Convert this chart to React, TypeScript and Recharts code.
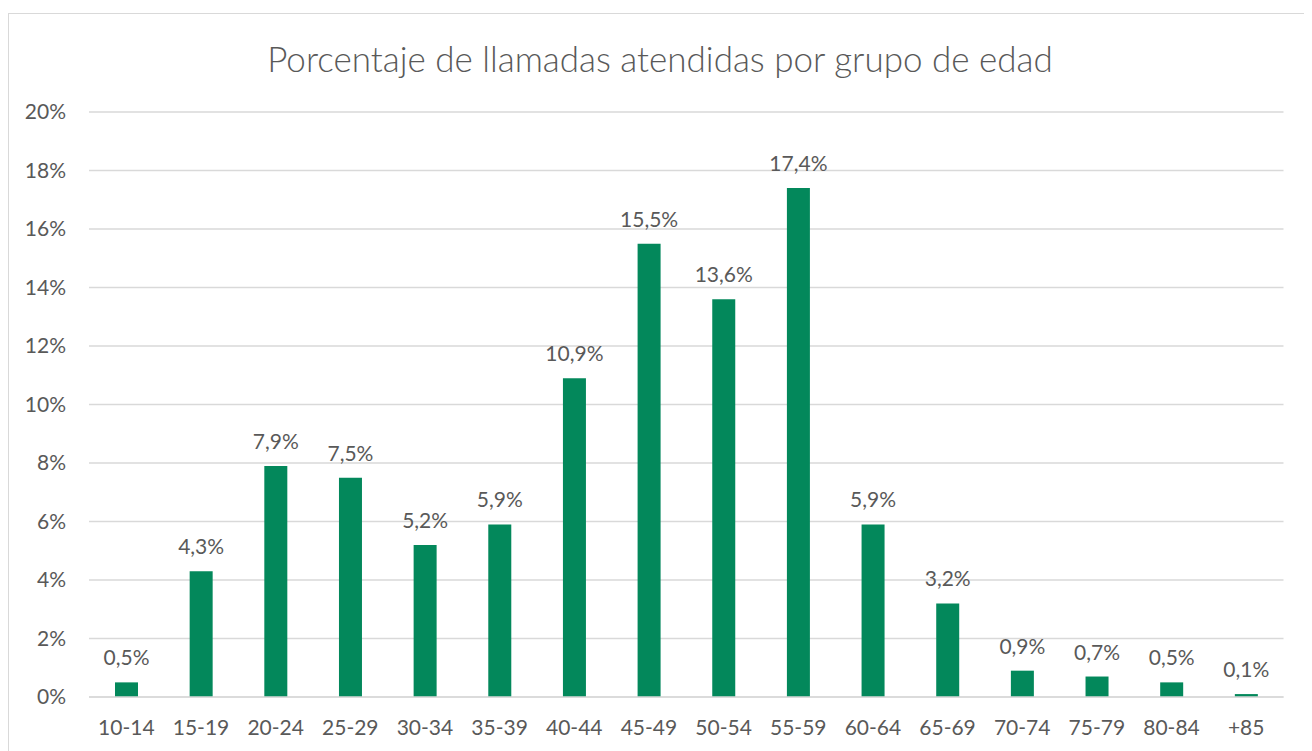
import React from 'react';
import { BarChart, Bar, XAxis, YAxis, CartesianGrid, LabelList } from 'recharts';

const ageGroups = ['10-14', '15-19', '20-24', '25-29', '30-34', '35-39', '40-44', '45-49', '50-54', '55-59', '60-64', '65-69', '70-74', '75-79', '80-84', '+85'];
const callShares = [0.5, 4.3, 7.9, 7.5, 5.2, 5.9, 10.9, 15.5, 13.6, 17.4, 5.9, 3.2, 0.9, 0.7, 0.5, 0.1];
const yTicks = [0, 2, 4, 6, 8, 10, 12, 14, 16, 18, 20];

const textGray = '#595959';
const gridGray = '#d9d9d9';
const barGreen = '#03885b';

const data = ageGroups.map((group, i) => ({ group, value: callShares[i] }));

const fmtLabel = (v: any) => `${Number(v).toFixed(1).replace('.', ',')}%`;

export default function App() {
  return (
    <div
      style={{
        position: 'relative',
        marginTop: 5,
        width: 1302,
        height: 745,
        border: `1px solid ${gridGray}`,
        background: '#fff',
        fontFamily: 'Lato, sans-serif',
      }}
    >
      {/* chart title */}
      <div
        style={{
          position: 'absolute',
          top: 24,
          left: 0,
          width: '100%',
          textAlign: 'center',
          fontSize: 35,
          fontWeight: 300,
          color: textGray,
          lineHeight: '40px',
        }}
      >
        Porcentaje de llamadas atendidas por grupo de edad
      </div>

      <BarChart
        width={1302}
        height={735}
        data={data}
        margin={{ top: 98, right: 27.5, bottom: 12, left: 0 }}
      >
        <CartesianGrid vertical={false} stroke={gridGray} strokeWidth={1.3} />
        <XAxis
          dataKey="group"
          height={40}
          axisLine={{ stroke: gridGray, strokeWidth: 1.3 }}
          tickLine={false}
          tickMargin={17}
          interval={0}
          tick={{ fontSize: 21, fill: textGray, fontFamily: 'Lato, sans-serif' }}
        />
        <YAxis
          width={80}
          domain={[0, 20]}
          ticks={yTicks}
          axisLine={false}
          tickLine={false}
          tickMargin={17}
          tickFormatter={(v: number) => `${v}%`}
          tick={{ fontSize: 21, fill: textGray, fontFamily: 'Lato, sans-serif' }}
        />
        <Bar dataKey="value" fill={barGreen} barSize={23} isAnimationActive={false}>
          <LabelList
            dataKey="value"
            position="top"
            offset={17}
            formatter={fmtLabel}
            style={{ fontSize: 21, fill: textGray, fontFamily: 'Lato, sans-serif' }}
          />
        </Bar>
      </BarChart>
    </div>
  );
}
